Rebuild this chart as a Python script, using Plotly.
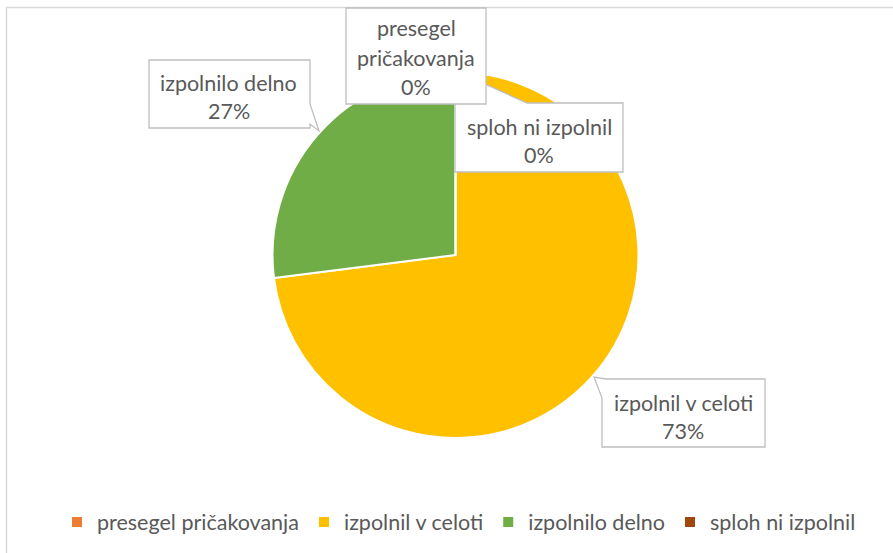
import plotly.graph_objects as go

W, H = 893, 553

categories = ["presegel pričakovanja", "izpolnil v celoti", "izpolnilo delno", "sploh ni izpolnil"]
values = [0, 73, 27, 0]
colors = ["#ED7D31", "#FFC000", "#70AD47", "#9E480E"]
label_lines = [["presegel", "pričakovanja", "0%"], ["izpolnil v celoti", "73%"], ["izpolnilo delno", "27%"], ["sploh ni izpolnil", "0%"]]

FONT = "Lato, Calibri, Carlito, sans-serif"
TXT = "#595959"
FS = 21.5


def px(x):
    return x / W


def py(y):
    return 1 - y / H


def path(points):
    s = "M " + " L ".join(f"{px(x):.5f},{py(y):.5f}" for x, y in points) + " Z"
    return s


fig = go.Figure()
cx, cy, r = 455.5, 255, 183
fig.add_trace(go.Pie(
    labels=categories,
    values=values,
    sort=False,
    direction="clockwise",
    rotation=0,
    textinfo="none",
    hoverinfo="label+percent",
    marker=dict(colors=colors, line=dict(color="white", width=2)),
    domain=dict(x=[px(cx - r), px(cx + r)], y=[py(cy + r), py(cy - r)]),
    showlegend=True,
))

shapes = []
# chart outer border
shapes.append(dict(type="rect", xref="paper", yref="paper",
                   x0=px(6.5), y0=py(7.5), x1=px(W + 10), y1=py(H + 10),
                   line=dict(color="#D9D9D9", width=1.5), fillcolor="rgba(0,0,0,0)", layer="below"))

callouts = [
    # sploh ni izpolnil (drawn first, presegel overlaps it)
    [(482, 103), (456, 71), (527, 103), (623, 103), (623, 172), (455, 172), (455, 103)],
    # presegel pričakovanja
    [(346, 8), (486, 8), (486, 104), (346, 104)],
    # izpolnilo delno
    [(149, 60), (310, 60), (310, 104), (319, 131), (310, 124), (310, 128), (149, 128)],
    # izpolnil v celoti
    [(606, 379), (765, 379), (765, 447), (602, 447), (602, 398), (594, 377)],
]
for pts in callouts:
    shapes.append(dict(type="path", xref="paper", yref="paper", path=path(pts),
                       line=dict(color="#BFBFBF", width=1.3), fillcolor="white", layer="above"))

text_pos = [
    (416, [28, 58, 87]),
    (683, [403, 431]),
    (229, [83, 111]),
    (539, [127, 155]),
]
annotations = []
for lines, (x, ys) in zip(label_lines, text_pos):
    for t, y in zip(lines, ys):
        annotations.append(dict(text=t, x=px(x), y=py(y), xref="paper", yref="paper",
                                xanchor="center", yanchor="middle", showarrow=False,
                                font=dict(family=FONT, size=FS, color=TXT)))

fig.update_layout(
    width=W, height=H,
    margin=dict(l=0, r=0, t=0, b=0),
    paper_bgcolor="white",
    plot_bgcolor="white",
    shapes=shapes,
    annotations=annotations,
    legend=dict(orientation="h", x=px(459), y=py(522), xanchor="center", yanchor="middle",
                font=dict(family=FONT, size=FS, color=TXT), traceorder="normal",
                itemclick=False, itemwidth=30, tracegroupgap=0),
)

fig.write_html("out.html", config={"displayModeBar": False},
               post_script="document.body.style.margin='0';document.body.style.overflow='hidden';")
